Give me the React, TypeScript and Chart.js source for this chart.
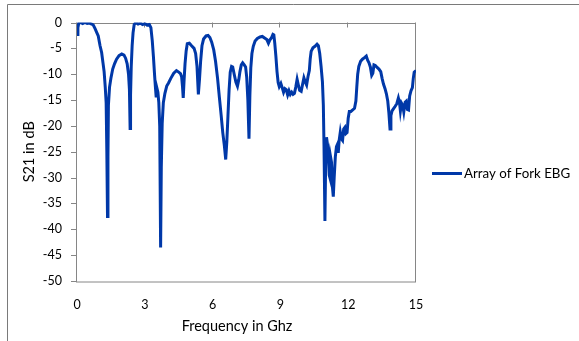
import { useEffect, useRef } from "react";
import { Chart, registerables } from "chart.js";

Chart.register(...registerables);

const freqGHz = [
  0.0, 0.04, 0.08, 0.15, 0.25, 0.35, 0.45, 0.55, 0.65, 0.72, 0.8, 0.88, 0.94, 1.02, 1.09, 1.15, 1.2, 1.25, 1.29, 1.32,
  1.35, 1.37, 1.39, 1.44, 1.5, 1.58, 1.66, 1.75, 1.86, 1.98, 2.08, 2.15, 2.22, 2.28, 2.32, 2.35, 2.37, 2.4, 2.44, 2.48,
  2.53, 2.6, 2.7, 2.8, 2.9, 3.0, 3.1, 3.2, 3.27, 3.33, 3.38, 3.43, 3.47, 3.5, 3.53, 3.58, 3.62, 3.66, 3.7, 3.73,
  3.77, 3.82, 3.89, 3.97, 4.05, 4.15, 4.28, 4.4, 4.5, 4.58, 4.63, 4.67, 4.7, 4.74, 4.78, 4.83, 4.88, 4.97, 5.07, 5.18,
  5.25, 5.31, 5.37, 5.42, 5.47, 5.53, 5.6, 5.71, 5.8, 5.88, 5.96, 6.05, 6.13, 6.22, 6.3, 6.38, 6.45, 6.52, 6.58, 6.63,
  6.68, 6.73, 6.78, 6.84, 6.89, 6.96, 7.03, 7.1, 7.16, 7.21, 7.27, 7.33, 7.4, 7.46, 7.51, 7.56, 7.61, 7.65, 7.69, 7.74,
  7.8, 7.88, 7.98, 8.1, 8.2, 8.3, 8.4, 8.47, 8.53, 8.6, 8.67, 8.71, 8.75, 8.8, 8.85, 8.9, 8.95, 9.02, 9.08, 9.14,
  9.2, 9.26, 9.32, 9.38, 9.44, 9.5, 9.56, 9.62, 9.68, 9.74, 9.79, 9.85, 9.92, 9.98, 10.04, 10.1, 10.16, 10.22, 10.28, 10.32,
  10.36, 10.44, 10.53, 10.62, 10.68, 10.74, 10.8, 10.86, 10.9, 10.93, 10.97, 11.0, 11.04, 11.08, 11.12, 11.16, 11.19, 11.22, 11.26, 11.3,
  11.34, 11.38, 11.43, 11.48, 11.52, 11.56, 11.6, 11.65, 11.7, 11.75, 11.8, 11.85, 11.9, 11.95, 12.0, 12.05, 12.12, 12.2, 12.28, 12.34,
  12.38, 12.42, 12.47, 12.55, 12.63, 12.72, 12.8, 12.86, 12.92, 12.98, 13.04, 13.09, 13.14, 13.2, 13.28, 13.36, 13.44, 13.5, 13.56, 13.63,
  13.69, 13.75, 13.8, 13.85, 13.89, 13.94, 14.0, 14.08, 14.15, 14.22, 14.27, 14.31, 14.36, 14.41, 14.46, 14.52, 14.57, 14.62, 14.67, 14.72,
  14.78, 14.84, 14.88, 14.92, 14.97, 15.0,
];

const s21dB = [
  -2.3, -1.0, -0.1, 0, -0.2, 0, -0.2, -0.1, -0.3, -0.5, -1.2, -2.0, -2.6, -4.5, -5.8, -7.8, -9.5, -12.5, -15.5, -25,
  -37.5, -26, -16, -12.5, -10.8, -9.0, -8.0, -7.1, -6.4, -6.1, -6.3, -6.9, -8.0, -10, -13, -20.5, -14, -8.5, -4.5, -2.0,
  -0.4, 0, -0.3, -0.1, -0.4, -0.2, -0.5, -0.4, -1.0, -3.5, -6.5, -10, -12.5, -14.2, -12.6, -13.5, -15.5, -20, -43.5, -28,
  -19.5, -15.5, -13.7, -12.3, -11.7, -10.8, -9.8, -9.3, -9.6, -9.9, -10.5, -12.5, -14.6, -11, -8.0, -5.5, -4.1, -4.0, -4.5, -5.0,
  -6.0, -8.5, -13.9, -11, -7.5, -4.5, -3.2, -2.6, -2.5, -2.9, -3.8, -5.3, -7.5, -10.8, -14.5, -18, -21.3, -23.8, -26.5, -23,
  -18, -13, -9.6, -8.5, -8.6, -10.1, -11.5, -12.3, -11, -9.5, -8.2, -7.8, -8.2, -8.6, -10.6, -15, -22.5, -14, -8.8, -6,
  -4.6, -3.6, -3.1, -2.8, -2.7, -3.0, -3.3, -4.0, -3.4, -3.0, -2.3, -2.4, -4.0, -6.5, -9.5, -11.6, -12.4, -11.8, -12.6, -13.5,
  -12.8, -13.0, -14.0, -13.2, -13.9, -13.5, -13.9, -13.7, -12.5, -11.0, -12.0, -13.1, -13.3, -12.0, -10.7, -11.5, -12.1, -10.5, -9.3, -7,
  -5.6, -4.9, -4.6, -4.2, -4.5, -6.0, -8.5, -11.5, -16, -24, -38.4, -28, -22.2, -23.5, -25, -29.5, -30, -26, -27, -31.7,
  -33.7, -30, -26, -24, -23.6, -25.2, -22.8, -21.2, -22.5, -22.8, -20.6, -20.3, -21.5, -21.3, -18.5, -17.2, -17.2, -16.9, -16.6, -15.2,
  -12.5, -10, -8.5, -7.5, -7.1, -6.8, -6.5, -7.3, -7.8, -8.6, -10.2, -9.8, -8.2, -8.3, -8.7, -9.0, -9.5, -10.8, -11.9, -12.8,
  -13.8, -15.2, -17.5, -20.6, -18, -17.1, -16.7, -16.2, -15.7, -14.6, -15.5, -17.1, -15.6, -16, -17.3, -15.4, -15.2, -16.8, -16.9, -14.2,
  -13.2, -12.6, -10.8, -9.6, -9.4, -9.3,
];

const xTickValues = [0, 3, 6, 9, 12, 15];
const yTickValues = [0, -5, -10, -15, -20, -25, -30, -35, -40, -45, -50];
const seriesLabel = "Array of Fork EBG";
const xTitle = "Frequency in Ghz";
const yTitle = "S21 in dB";

const LINE_COLOR = "#0038a8";
const AXIS_COLOR = "#868686";
const TEXT_COLOR = "#000000";
const FONT = "Lato, 'Open Sans', sans-serif";

const decorPlugin = {
  id: "decor",
  beforeDraw(chart: any) {
    const ctx = chart.ctx;
    ctx.save();
    ctx.strokeStyle = "#7a7a7a";
    ctx.lineWidth = 1;
    ctx.beginPath();
    ctx.moveTo(7.5, 341);
    ctx.lineTo(7.5, 4.5);
    ctx.lineTo(579, 4.5);
    ctx.stroke();
    ctx.restore();
  },
  beforeDatasetsDraw(chart: any) {
    const { ctx, chartArea } = chart;
    const { left, right, top, bottom } = chartArea;
    const xs = chart.scales.x;
    const ys = chart.scales.y;
    ctx.save();
    ctx.strokeStyle = AXIS_COLOR;
    ctx.lineWidth = 1;
    ctx.strokeRect(Math.round(left) - 0.5, Math.round(top) + 0.5, right - left, bottom - top);
    ctx.beginPath();
    for (const v of yTickValues) {
      const py = Math.round(ys.getPixelForValue(v)) + 0.5;
      ctx.moveTo(left - 6, py);
      ctx.lineTo(left, py);
    }
    for (const v of xTickValues) {
      const px = Math.round(xs.getPixelForValue(v)) - 0.5;
      ctx.moveTo(px, top);
      ctx.lineTo(px, top + 5);
    }
    ctx.stroke();
    ctx.restore();
  },
  afterDraw(chart: any) {
    const { ctx, chartArea } = chart;
    ctx.save();
    ctx.fillStyle = TEXT_COLOR;
    ctx.font = `14.5px ${FONT}`;
    ctx.textAlign = "center";
    ctx.textBaseline = "middle";
    ctx.fillText(xTitle, 237, 326);
    ctx.save();
    ctx.translate(29, (chartArea.top + chartArea.bottom) / 2);
    ctx.rotate(-Math.PI / 2);
    ctx.fillText(yTitle, 0, 0);
    ctx.restore();
    // legend
    ctx.strokeStyle = LINE_COLOR;
    ctx.lineWidth = 3;
    ctx.beginPath();
    ctx.moveTo(432, 173.5);
    ctx.lineTo(462, 173.5);
    ctx.stroke();
    ctx.font = `13.3px ${FONT}`;
    ctx.textAlign = "left";
    ctx.fillText(seriesLabel, 464, 173.5);
    ctx.restore();
  },
};

export default function App() {
  const canvasRef = useRef<HTMLCanvasElement | null>(null);

  useEffect(() => {
    if (!canvasRef.current) return;
    const points = freqGHz.map((f, i) => ({ x: f, y: s21dB[i] }));
    const chart = new Chart(canvasRef.current, {
      type: "line",
      data: {
        datasets: [
          {
            label: seriesLabel,
            data: points,
            borderColor: LINE_COLOR,
            backgroundColor: LINE_COLOR,
            borderWidth: 3,
            pointRadius: 0,
            tension: 0,
            fill: false,
          },
        ],
      },
      options: {
        animation: false,
        responsive: false,
        devicePixelRatio: 1,
        layout: { padding: { top: 21, right: 163, left: 0, bottom: 0 } },
        plugins: {
          legend: { display: false },
          tooltip: { enabled: false },
          title: { display: false },
        },
        scales: {
          x: {
            type: "linear",
            position: "bottom",
            min: 0,
            max: 15,
            afterBuildTicks: (scale: any) => {
              scale.ticks = xTickValues.map((v) => ({ value: v }));
            },
            afterFit: (scale: any) => {
              scale.height = 60;
            },
            grid: { display: false, drawTicks: false },
            border: { display: false },
            ticks: {
              padding: 16,
              color: TEXT_COLOR,
              font: { family: FONT, size: 12.5 },
              maxRotation: 0,
              autoSkip: false,
            },
          },
          y: {
            type: "linear",
            min: -50,
            max: 0,
            afterBuildTicks: (scale: any) => {
              scale.ticks = yTickValues.map((v) => ({ value: v }));
            },
            afterFit: (scale: any) => {
              scale.width = 77;
            },
            grid: { display: false, drawTicks: false },
            border: { display: false },
            ticks: {
              padding: 15,
              color: TEXT_COLOR,
              font: { family: FONT, size: 12.5 },
              autoSkip: false,
            },
          },
        },
      },
      plugins: [decorPlugin],
    });
    return () => chart.destroy();
  }, []);

  return (
    <div style={{ position: "absolute", left: 0, top: 0, width: 579, height: 341, background: "#fff" }}>
      <canvas ref={canvasRef} width={579} height={341} style={{ display: "block" }} />
    </div>
  );
}
